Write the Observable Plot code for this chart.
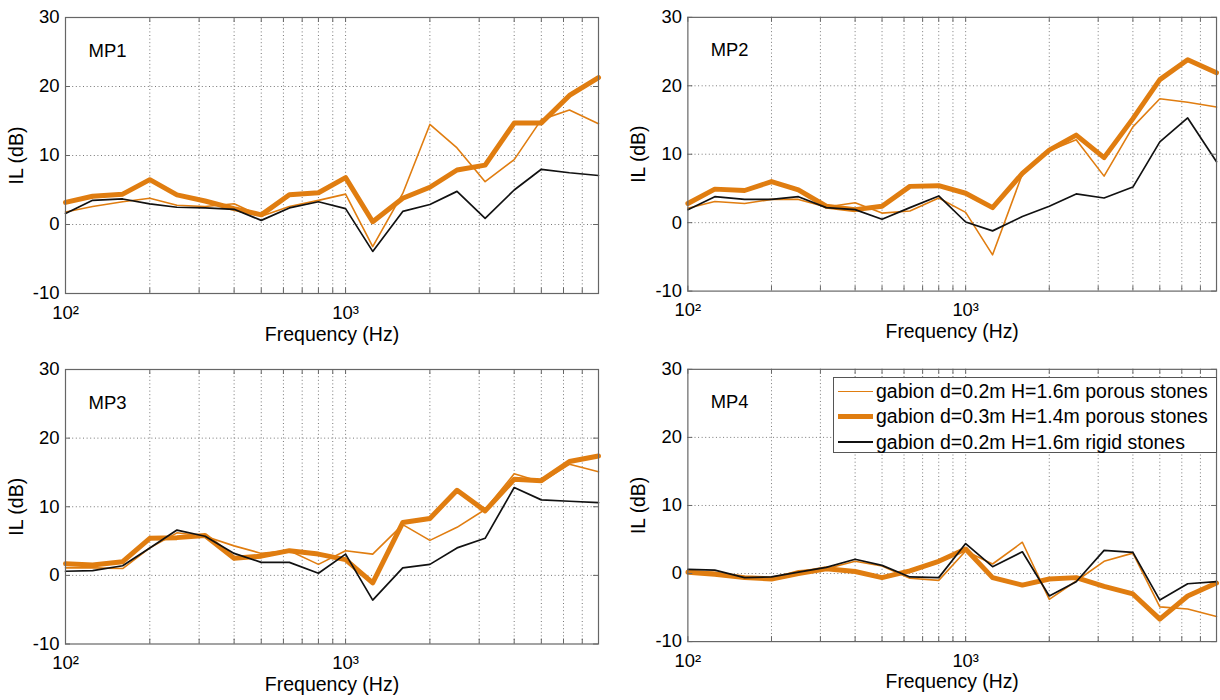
<!DOCTYPE html>
<html>
<head>
<meta charset="utf-8">
<script src="https://cdn.jsdelivr.net/npm/d3@7"></script>
<script src="https://cdn.jsdelivr.net/npm/@observablehq/plot@0.6"></script>
<style>
  html, body { margin: 0; padding: 0; background: #fff; overflow: hidden; }
  #wrap { position: relative; width: 1220px; height: 700px; overflow: hidden; background: #fff; }
  .panel { position: absolute; }
  #legend { position: absolute; left: 833px; top: 377px; width: 382px; height: 74px;
    border: 1px solid #555; background: #fff; font-family: "Liberation Sans", Arial, sans-serif; font-size: 19.5px; color: #000; }
  .row { position: absolute; left: 0; height: 25px; line-height: 25px; white-space: nowrap; }
  .row .sw { position: absolute; left: 4px; width: 35px; }
  .row .lb { position: absolute; left: 42px; top: 0; }
</style>
</head>
<body>
<div id="wrap"></div>
<script>
// third-octave band centre frequencies (Hz)
const freqs = [100,125,160,200,250,315,400,500,630,800,1000,1250,1600,2000,2500,3150,4000,5000,6300,8000];

const seriesNames = [
  "gabion d=0.2m H=1.6m porous stones",
  "gabion d=0.3m H=1.4m porous stones",
  "gabion d=0.2m H=1.6m rigid stones"
];
const panelNames = ["MP1", "MP2", "MP3", "MP4"];

// IL (dB)
const mp1Thin  = [1.8,2.6,3.3,3.8,2.8,2.6,3.0,1.2,2.6,3.5,4.4,-3.2,4.5,14.5,11.1,6.2,9.4,15.2,16.6,14.6];
const mp1Thick = [3.2,4.1,4.4,6.5,4.3,3.4,2.3,1.4,4.3,4.6,6.8,0.4,3.8,5.4,7.9,8.6,14.7,14.7,18.7,21.3];
const mp1Rigid = [1.6,3.5,3.7,3.0,2.5,2.4,2.2,0.6,2.4,3.3,2.3,-3.9,1.9,2.9,4.8,0.9,5.0,8.0,7.5,7.1];

const mp2Thin  = [2.1,3.1,2.8,3.4,3.4,2.3,2.9,1.4,1.7,3.6,1.5,-4.7,7.1,10.5,12.1,6.8,14.0,18.1,17.6,16.9];
const mp2Thick = [2.8,4.9,4.7,6.0,4.8,2.4,1.9,2.4,5.3,5.4,4.3,2.2,7.2,10.6,12.8,9.5,15.2,20.9,23.8,21.9];
const mp2Rigid = [1.9,3.8,3.4,3.4,3.8,2.2,1.9,0.5,2.2,3.9,0.1,-1.2,0.9,2.4,4.2,3.6,5.2,11.8,15.3,8.9];

const mp3Thin  = [1.1,1.1,1.0,4.0,6.2,5.7,4.3,3.2,3.6,1.6,3.6,3.1,7.4,5.1,7.0,9.6,14.8,13.6,16.2,15.1];
const mp3Thick = [1.7,1.5,2.0,5.4,5.5,5.8,2.5,2.8,3.6,3.1,2.3,-1.1,7.7,8.3,12.4,9.4,14.0,13.8,16.6,17.4];
const mp3Rigid = [0.6,0.7,1.4,4.0,6.6,5.7,3.2,1.9,1.9,0.3,3.1,-3.6,1.1,1.6,4.0,5.4,12.8,11.0,10.8,10.6];

const mp4Thin  = [0.4,0.2,-0.6,-0.7,0.4,0.7,1.8,1.1,-0.7,-1.0,3.3,1.4,4.6,-3.8,-1.1,1.8,3.0,-4.9,-5.2,-6.3];
const mp4Thick = [0.2,-0.1,-0.6,-0.8,0.0,0.7,0.3,-0.6,0.4,1.8,3.6,-0.6,-1.7,-0.8,-0.6,-1.9,-3.0,-6.7,-3.3,-1.4];
const mp4Rigid = [0.6,0.5,-0.6,-0.5,0.2,0.9,2.1,1.2,-0.5,-0.6,4.4,1.0,3.2,-3.3,-1.2,3.4,3.1,-3.9,-1.5,-1.2];

const xTicks = [100,200,300,400,500,600,700,800,900,1000,2000,3000,4000,5000,6000,7000,8000];
const xLabels = {100: "10\u00B2", 1000: "10\u00B3"};
const yTicks = [-10,0,10,20,30];

const ORANGE = "#e07d10";
const AXIS = "#666";
const FONT = "'Liberation Sans', Arial, Helvetica, sans-serif";

const panelData = [
  [mp1Thin, mp1Thick, mp1Rigid],
  [mp2Thin, mp2Thick, mp2Rigid],
  [mp3Thin, mp3Thick, mp3Rigid],
  [mp4Thin, mp4Thick, mp4Rigid]
];

const layout = [
  {left: 0,   top: 0,   width: 610, mL: 65, mR: 12, mT: 17, mB: 57},
  {left: 610, top: 0,   width: 615, mL: 78, mR: 4,  mT: 17, mB: 57},
  {left: 0,   top: 350, width: 610, mL: 65, mR: 12, mT: 19, mB: 56.5},
  {left: 610, top: 350, width: 615, mL: 78, mR: 4,  mT: 19, mB: 56.5}
];

const wrap = document.getElementById("wrap");

panelNames.forEach((name, i) => {
  const L = layout[i];
  const H = 350;
  const plotH = H - L.mT - L.mB;
  const plotW = L.width - L.mL - L.mR;
  const tl = 5;
  const [thin, thick, rigid] = panelData[i];
  const rows = s => freqs.map((f, k) => ({f, v: s[k]}));

  const chart = Plot.plot({
    width: L.width,
    height: H,
    marginLeft: L.mL, marginRight: L.mR, marginTop: L.mT, marginBottom: L.mB,
    style: {fontFamily: FONT, fontSize: "18.5px", color: "#000", background: "transparent", overflow: "visible"},
    x: {type: "log", domain: [100, 8000]},
    y: {domain: [-10, 30]},
    marks: [
      Plot.gridX(xTicks.filter(d => d > 100 && d < 8000), {x: d => d, stroke: "#777", strokeOpacity: 1, strokeDasharray: "1,2.6"}),
      Plot.gridY(yTicks.filter(d => d > -10 && d < 30), {y: d => d, stroke: "#777", strokeOpacity: 1, strokeDasharray: "1,2.6"}),
      Plot.line(rows(thin),  {x: "f", y: "v", stroke: ORANGE, strokeWidth: 1.6}),
      Plot.line(rows(thick), {x: "f", y: "v", stroke: ORANGE, strokeWidth: 5}),
      Plot.line(rows(rigid), {x: "f", y: "v", stroke: "#111", strokeWidth: 1.7}),
      Plot.frame({stroke: AXIS, strokeWidth: 1.2}),
      // inward ticks
      Plot.tickX(xTicks, {x: d => d, insetTop: plotH - tl, stroke: AXIS}),
      Plot.tickX(xTicks, {x: d => d, insetBottom: plotH - tl, stroke: AXIS}),
      Plot.tickY(yTicks, {y: d => d, insetRight: plotW - tl, stroke: AXIS}),
      Plot.tickY(yTicks, {y: d => d, insetLeft: plotW - tl, stroke: AXIS}),
      Plot.axisX([100, 1000], {anchor: "bottom", tickSize: 0, tickPadding: 12, tickFormat: d => xLabels[d], label: null}),
      Plot.axisY(yTicks, {anchor: "left", tickSize: 0, tickPadding: 6, tickFormat: d => String(d), label: null}),
      Plot.text([name], {text: d => d, frameAnchor: "top-left", dx: 23, dy: 39, lineAnchor: "bottom", textAnchor: "start", fontSize: 18.5}),
      Plot.text(["IL (dB)"], {text: d => d, frameAnchor: "left", dx: -49, rotate: -90, textAnchor: "middle", lineAnchor: "middle", fontSize: 19.5}),
      Plot.text(["Frequency (Hz)"], {text: d => d, frameAnchor: "bottom", dy: 47, lineAnchor: "bottom", textAnchor: "middle", fontSize: 19.5})
    ]
  });
  const div = document.createElement("div");
  div.className = "panel";
  div.style.left = L.left + "px";
  div.style.top = L.top + "px";
  div.appendChild(chart);
  wrap.appendChild(div);
});

// legend (MP4 panel)
const legend = document.createElement("div");
legend.id = "legend";
const swatches = [{c: ORANGE, w: 1.6}, {c: ORANGE, w: 5}, {c: "#111", w: 1.7}];
seriesNames.forEach((s, k) => {
  const row = document.createElement("div");
  row.className = "row";
  row.style.top = (1 + k * 25.3) + "px";
  const sw = document.createElement("div");
  sw.className = "sw";
  sw.style.height = swatches[k].w + "px";
  sw.style.background = swatches[k].c;
  sw.style.top = (12.5 - swatches[k].w / 2) + "px";
  const lb = document.createElement("span");
  lb.className = "lb";
  lb.textContent = s;
  row.appendChild(sw);
  row.appendChild(lb);
  legend.appendChild(row);
});
wrap.appendChild(legend);
</script>
</body>
</html>
